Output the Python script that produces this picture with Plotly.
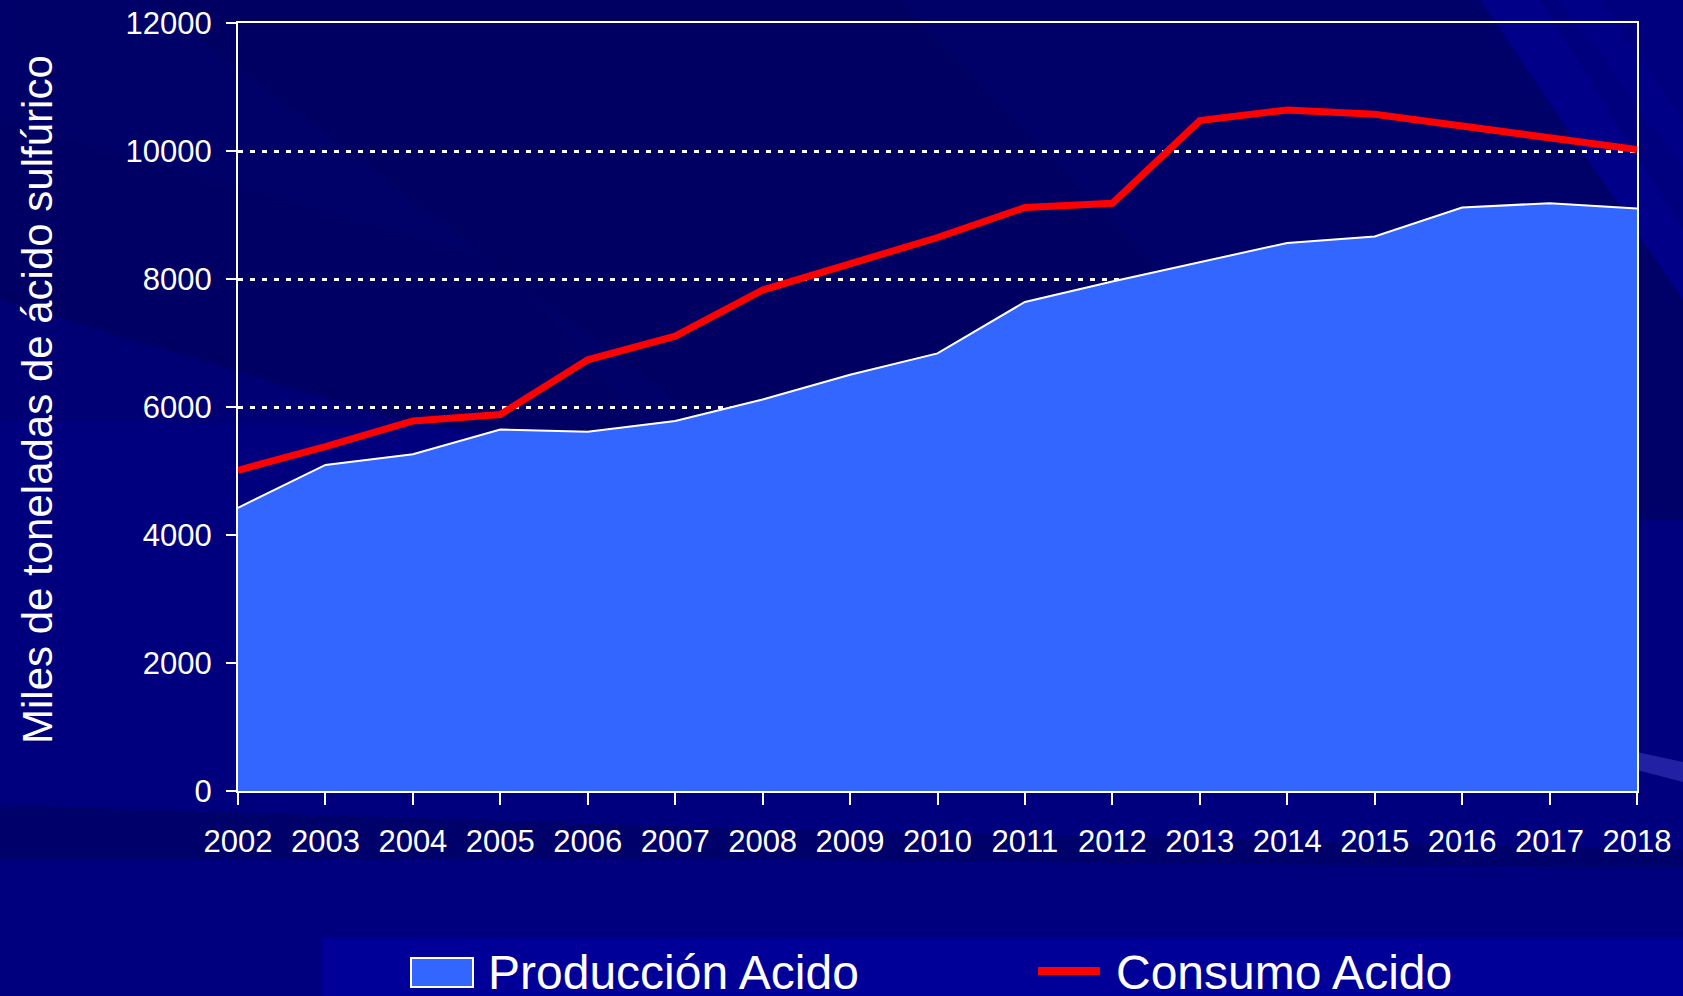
import plotly.graph_objects as go

years = list(range(2002, 2019))
produccion = [4425, 5095, 5263, 5648, 5615, 5782, 6117, 6503, 6838,
              7642, 7961, 8263, 8564, 8665, 9117, 9184, 9101]
consumo = [5011, 5380, 5782, 5883, 6737, 7106, 7827, 8246, 8648,
           9117, 9184, 10475, 10642, 10575, 10391, 10190, 10022]
y_ticks = [0, 2000, 4000, 6000, 8000, 10000, 12000]
serie_names = ['Producción Acido', 'Consumo Acido']

W, H = 1683, 996
L, R, T, B = 238, 1637, 23, 791
FONT = 'Liberation Sans, Arial, sans-serif'


def px(x):
    return (x - L) / (R - L)


def py(y):
    return (B - y) / (B - T)


def poly(points):
    return 'M ' + ' L '.join('%.4f,%.4f' % (px(a), py(b)) for a, b in points) + ' Z'


fig = go.Figure()

fig.add_trace(go.Scatter(
    x=years, y=produccion, name=serie_names[0],
    mode='lines', fill='tozeroy', fillcolor='#3366FF',
    line=dict(color='white', width=2),
    showlegend=False
))

fig.add_trace(go.Scatter(
    x=years, y=consumo, name=serie_names[1],
    mode='lines', line=dict(color='#FF0000', width=7),
    showlegend=False
))

shapes = []
# background streaks (slide template look)
bg = [
    ([(0, 0), (1480, 0), (1683, 300), (1683, 520), (1000, 520), (400, 420), (0, 300)], '#000050', 0.45),
    ([(150, 0), (900, 0), (1300, 420), (700, 420)], '#000048', 0.2),
    ([(0, 120), (500, 260), (650, 430), (0, 420)], '#000058', 0.25),
    ([(1480, 0), (1540, 0), (1683, 230), (1683, 300)], '#0000a0', 0.3),
    ([(1560, 0), (1600, 0), (1683, 120), (1683, 170)], '#0000a0', 0.25),
    ([(0, 805), (800, 830), (1683, 850), (1683, 868), (800, 860), (0, 860)], '#000055', 0.5),
    ([(1637, 752), (1683, 762), (1683, 782), (1637, 770)], '#4a4ad0', 0.45),
]
for pts, col, op in bg:
    shapes.append(dict(type='path', path=poly(pts), xref='paper', yref='paper',
                       fillcolor=col, opacity=op, line=dict(width=0), layer='below'))

# legend panel
shapes.append(dict(type='rect', xref='paper', yref='paper',
                   x0=px(322), x1=px(W + 5), y0=py(938), y1=py(H + 5),
                   fillcolor='#000099', line=dict(width=0), layer='below'))
# legend symbols
shapes.append(dict(type='rect', xref='paper', yref='paper',
                   x0=px(411), x1=px(473), y0=py(958), y1=py(987),
                   fillcolor='#3366FF', line=dict(color='white', width=2)))
shapes.append(dict(type='line', xref='paper', yref='paper',
                   x0=px(1038), x1=px(1100), y0=py(971), y1=py(971),
                   line=dict(color='#FF0000', width=8)))

annotations = [
    dict(text='Miles de toneladas de ácido sulfúrico', textangle=-90,
         xref='paper', yref='paper', x=px(37), y=py(400),
         xanchor='center', yanchor='middle', showarrow=False,
         font=dict(family=FONT, size=42, color='white')),
    dict(text=serie_names[0], xref='paper', yref='paper', x=px(486), y=py(972),
         xanchor='left', yanchor='middle', showarrow=False,
         font=dict(family=FONT, size=48, color='white')),
    dict(text=serie_names[1], xref='paper', yref='paper', x=px(1114), y=py(972),
         xanchor='left', yanchor='middle', showarrow=False,
         font=dict(family=FONT, size=48, color='white')),
]

fig.update_layout(
    width=W, height=H,
    margin=dict(l=L, r=W - R, t=T, b=H - B, pad=0, autoexpand=False),
    paper_bgcolor='#00007e',
    plot_bgcolor='rgba(0,0,0,0)',
    showlegend=False,
    shapes=shapes,
    annotations=annotations,
    font=dict(family=FONT, color='white'),
    xaxis=dict(
        range=[2002, 2018], tickvals=years, ticktext=[str(y) for y in years],
        showgrid=False, zeroline=False,
        showline=True, linecolor='white', linewidth=2, mirror=True,
        ticks='outside', ticklen=12, tickwidth=2, tickcolor='white',
        ticklabelstandoff=10,
        tickfont=dict(family=FONT, size=31, color='white'),
    ),
    yaxis=dict(
        range=[0, 12000], tickvals=y_ticks, ticktext=[str(v) for v in y_ticks],
        showgrid=True, gridcolor='white', gridwidth=3, griddash='5px,7px',
        zeroline=False,
        showline=True, linecolor='white', linewidth=2, mirror=True,
        ticks='outside', ticklen=10, tickwidth=2, tickcolor='white',
        ticklabelstandoff=8,
        tickfont=dict(family=FONT, size=31, color='white'),
    ),
)

fig.write_html("out.html", config={'displayModeBar': False},
               post_script="document.body.style.margin='0';")
